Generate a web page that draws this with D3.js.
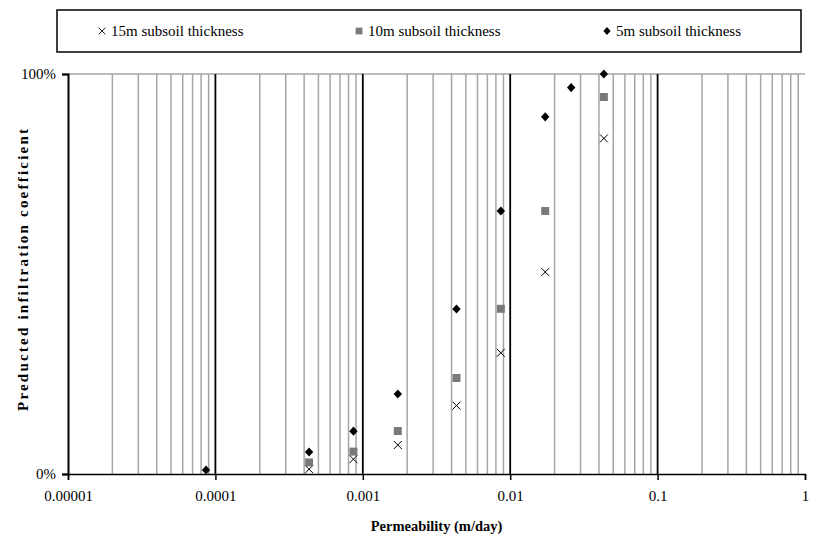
<!DOCTYPE html>
<html>
<head>
<meta charset="utf-8">
<script src="https://cdn.jsdelivr.net/npm/d3@7"></script>
<style>
  body { margin: 0; background: #fff; }
  svg text { font-family: "Liberation Serif", "Times New Roman", serif; }
</style>
</head>
<body>
<div id="chart"></div>
<script>
// permeability values (m/day)
var permeability = [0.0000864, 0.000432, 0.000864, 0.001728, 0.00432, 0.00864, 0.01728, 0.02592, 0.0432];

// predicted infiltration coefficient for each subsoil thickness
var thick15 = [null, 0.012, 0.037, 0.0725, 0.171, 0.303, 0.505, null, 0.839];
var thick10 = [null, 0.029, 0.056, 0.1075, 0.24, 0.413, 0.6575, null, 0.9425];
var thick5  = [0.01, 0.055, 0.107, 0.2, 0.4125, 0.6575, 0.893, 0.966, 1.0];

var seriesNames = ["15m subsoil thickness", "10m subsoil thickness", "5m subsoil thickness"];
var xTickValues = [0.00001, 0.0001, 0.001, 0.01, 0.1, 1];
var xTickLabels = ["0.00001", "0.0001", "0.001", "0.01", "0.1", "1"];
var yTickValues = [0, 1];
var yTickLabels = ["0%", "100%"];

var w = 818, h = 540;
//plot box (don't use "top" as a global name, it clashes with window.top)
var pLeft = 68, pRight = 805, pTop = 74, pBottom = 474;

var svg = d3.select("#chart").append("svg")
    .attr("width", w)
    .attr("height", h);

var x = d3.scaleLog().domain([0.00001, 1]).range([pLeft, pRight]);
var y = d3.scaleLinear().domain([0, 1]).range([pBottom, pTop]);

//minor gridlines (2..9 of each decade)
var minor = x.ticks().filter(function (v) {
    var m = v / Math.pow(10, Math.floor(Math.log10(v) + 1e-9));
    return Math.round(m) != 1;
});
svg.append("g").attr("class", "minor-grid")
    .selectAll("line").data(minor).enter().append("line")
    .attr("x1", function (d) { return x(d); })
    .attr("x2", function (d) { return x(d); })
    .attr("y1", pTop).attr("y2", pBottom)
    .attr("stroke", "#a6a6a6").attr("stroke-width", 1.5);

//top horizontal gridline
svg.append("line")
    .attr("x1", pLeft).attr("x2", pRight)
    .attr("y1", y(1)).attr("y2", y(1))
    .attr("stroke", "#a6a6a6").attr("stroke-width", 1.5);

//major gridlines at decades (black)
svg.append("g").attr("class", "major-grid")
    .selectAll("line").data(xTickValues.slice(1, 5)).enter().append("line")
    .attr("x1", function (d) { return x(d); })
    .attr("x2", function (d) { return x(d); })
    .attr("y1", pTop).attr("y2", pBottom)
    .attr("stroke", "#000").attr("stroke-width", 1.8);

//x axis
var xAxis = d3.axisBottom(x)
    .tickValues(xTickValues)
    .tickFormat(function (d, i) { return xTickLabels[i]; })
    .tickSize(6)
    .tickPadding(10);
var gx = svg.append("g")
    .attr("transform", "translate(0," + pBottom + ")")
    .call(xAxis);
gx.select(".domain").attr("stroke", "#000").attr("stroke-width", 1.5);
gx.selectAll(".tick line").attr("stroke", "#000").attr("stroke-width", 1.5);
gx.selectAll(".tick text")
    .attr("font-size", "15px")
    .attr("fill", "#000")
    .style("font-family", "Liberation Serif");

//y axis
var yAxis = d3.axisLeft(y)
    .tickValues(yTickValues)
    .tickFormat(function (d, i) { return yTickLabels[i]; })
    .tickSize(6)
    .tickPadding(6);
var gy = svg.append("g")
    .attr("transform", "translate(" + pLeft + ",0)")
    .call(yAxis);
gy.select(".domain").attr("stroke", "#000").attr("stroke-width", 2);
gy.selectAll(".tick line").attr("stroke", "#000").attr("stroke-width", 1.5);
gy.selectAll(".tick text")
    .attr("font-size", "15px")
    .attr("fill", "#000")
    .style("font-family", "Liberation Serif");

//axis titles
svg.append("text")
    .attr("x", (pLeft + pRight) / 2).attr("y", 531)
    .attr("text-anchor", "middle")
    .attr("font-size", "14.5px").attr("font-weight", "bold")
    .text("Permeability (m/day)");

//the y title is stretched in the original, spread it out to match
svg.append("text")
    .attr("transform", "translate(28,270) rotate(-90)")
    .attr("text-anchor", "middle")
    .attr("font-size", "15px").attr("font-weight", "bold")
    .attr("textLength", 282)
    .attr("lengthAdjust", "spacing")
    .text("Preducted infiltration coefficient");

//marker shapes
var crossPath = "M-4,-4L4,4M-4,4L4,-4";
var squarePath = "M-4,-4H4V4H-4Z";
var diamondPath = "M0,-4.6L4.2,0L0,4.6L-4.2,0Z";

function points(vals) {
    var out = [];
    for (var i = 0; i < vals.length; i++) {
        if (vals[i] != null) out.push({k: permeability[i], v: vals[i]});
    }
    return out;
}

var series = [
    {name: seriesNames[0], data: points(thick15), path: crossPath, fill: "none", stroke: "#000"},
    {name: seriesNames[1], data: points(thick10), path: squarePath, fill: "#7a7a7a", stroke: "none"},
    {name: seriesNames[2], data: points(thick5), path: diamondPath, fill: "#000", stroke: "none"}
];

series.forEach(function (s) {
    svg.append("g").attr("class", "series")
        .selectAll("path").data(s.data).enter().append("path")
        .attr("d", s.path)
        .attr("transform", function (d) { return "translate(" + x(d.k) + "," + y(d.v) + ")"; })
        .attr("fill", s.fill)
        .attr("stroke", s.stroke)
        .attr("stroke-width", 1);
});

//legend
var legend = svg.append("g").attr("class", "legend");
legend.append("rect")
    .attr("x", 57).attr("y", 10).attr("width", 744).attr("height", 42)
    .attr("fill", "#fff").attr("stroke", "#000").attr("stroke-width", 1.5);

var legendX = [102, 359, 607];
series.forEach(function (s, i) {
    legend.append("path")
        .attr("d", s.path)
        .attr("transform", "translate(" + legendX[i] + ",31) scale(0.85)")
        .attr("fill", s.fill)
        .attr("stroke", s.stroke)
        .attr("stroke-width", 1);
    legend.append("text")
        .attr("x", legendX[i] + 9).attr("y", 36)
        .attr("font-size", "15px")
        .text(s.name);
});
</script>
</body>
</html>
